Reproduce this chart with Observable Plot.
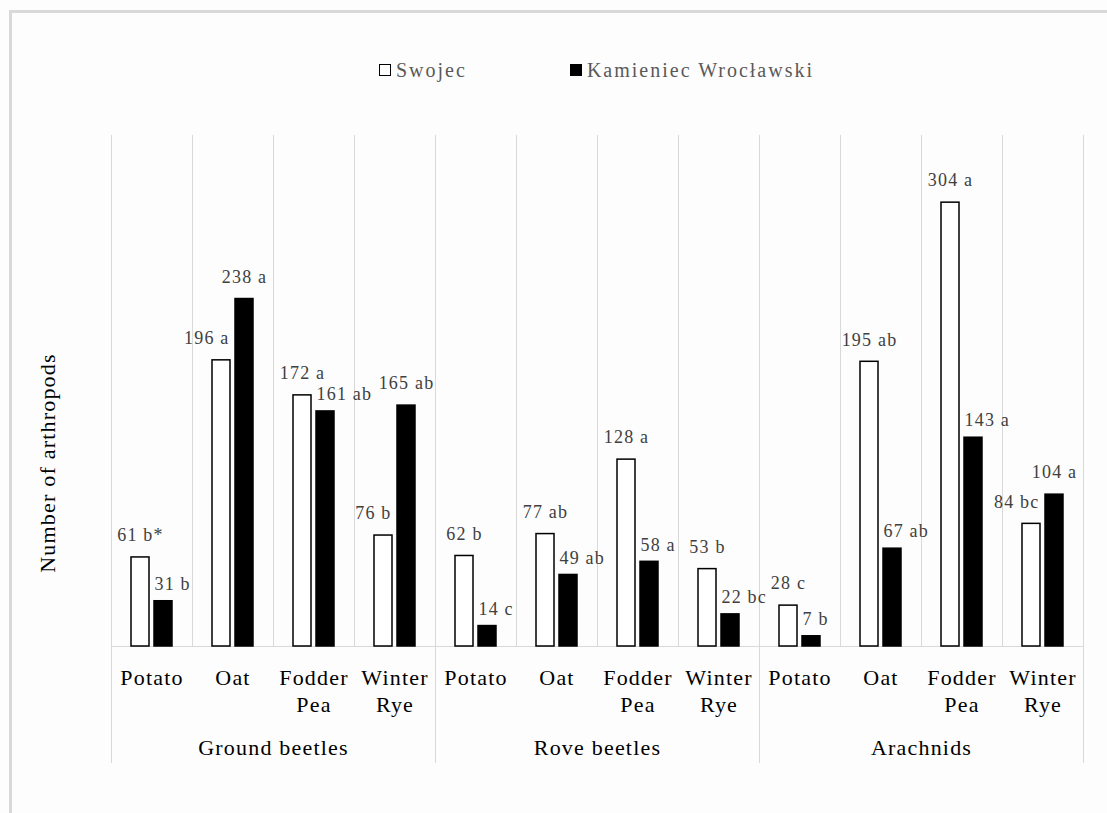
<!DOCTYPE html>
<html>
<head>
<meta charset="utf-8">
<script src="https://cdn.jsdelivr.net/npm/d3@7"></script>
<script src="https://cdn.jsdelivr.net/npm/@observablehq/plot@0.6"></script>
<style>
  html, body { margin: 0; padding: 0; background: #fdfdfd; overflow: hidden; width: 1107px; height: 813px; }
  #border { position: absolute; left: 9px; top: 10px; width: 1130px; height: 840px;
            border-left: 3px solid #d9d9d9; border-top: 3px solid #d9d9d9; box-sizing: border-box; }
  #legend { position: absolute; top: 60px; left: 110px; width: 973px; height: 20px; line-height: 20px;
            display: flex; justify-content: center; align-items: center;
            font-family: "Liberation Serif", serif; font-size: 20px; color: #595959; letter-spacing: 2px; }
  #legend .item { display: flex; align-items: center; }
  #legend .sw { width: 12px; height: 12px; box-sizing: border-box; border: 1.5px solid #000; margin-right: 5px; }
  #chart { position: absolute; left: 0; top: 100px; }
</style>
</head>
<body>
<div id="border"></div>
<div id="legend"></div>
<div id="chart"></div>
<script>
// ---- data ----
const groups = ["Ground beetles", "Rove beetles", "Arachnids"];
const crops = ["Potato", "Oat", "Fodder Pea", "Winter Rye"];
const cropLabels = ["Potato", "Oat", "Fodder\nPea", "Winter\nRye"];
const series = ["Swojec", "Kamieniec Wrocławski"];
const seriesColors = ["#ffffff", "#000000"];

const swojecValues = [61, 196, 172, 76, 62, 77, 128, 53, 28, 195, 304, 84];
const swojecLetters = ["b*", "a", "a", "b", "b", "ab", "a", "b", "c", "ab", "a", "bc"];
const kamieniecValues = [31, 238, 161, 165, 14, 49, 58, 22, 7, 67, 143, 104];
const kamieniecLetters = ["b", "a", "ab", "ab", "c", "ab", "a", "bc", "b", "ab", "a", "a"];

const yTitle = "Number of arthropods";

// ---- build tables ----
const cats = [];
groups.forEach((g, gi) => crops.forEach((c, ci) => {
  cats.push({key: g + "|" + c, group: g, crop: c, label: cropLabels[ci], gi, ci});
}));
const keys = cats.map(d => d.key);

const rows = [];
cats.forEach((cat, i) => {
  const w = swojecValues[i], k = kamieniecValues[i];
  // a label is pushed aside when the neighbouring bar of its category is taller
  rows.push({key: cat.key, series: series[0], value: w, text: w + " " + swojecLetters[i], blocked: k > w});
  rows.push({key: cat.key, series: series[1], value: k, text: k + " " + kamieniecLetters[i], blocked: w > k});
});
const isW = d => d.series === series[0];
const isK = d => d.series === series[1];

// ---- legend ----
const legend = document.getElementById("legend");
series.forEach((s, i) => {
  const item = document.createElement("div");
  item.className = "item";
  if (i > 0) item.style.marginLeft = "103px";
  const sw = document.createElement("div");
  sw.className = "sw";
  sw.style.background = seriesColors[i];
  const t = document.createElement("span");
  t.textContent = s;
  item.appendChild(sw); item.appendChild(t);
  legend.appendChild(item);
});

// ---- chart ----
const grid = "#d9d9d9";
const font = "Liberation Serif, serif";
const groupStarts = cats.filter(d => d.ci === 0).map(d => d.key);
const groupLabelCats = cats.filter(d => d.ci === 1);
const extend = -116;
const lab = {fx: "key", x: "series", y: "value", text: "text", fill: "#404040", fontSize: 18, fontFamily: font};

const marks = [
  Plot.frame({anchor: "left", stroke: grid}),
  ...groupStarts.map(k => Plot.frame({anchor: "left", stroke: grid, insetBottom: extend, fx: () => k})),
  Plot.frame({anchor: "right", stroke: grid, insetBottom: extend, fx: () => keys[keys.length - 1]}),
  Plot.ruleY([0], {stroke: grid}),
  Plot.barY(rows, {fx: "key", x: "series", y: "value", fill: "series", stroke: "#000", strokeWidth: 1.5}),
  Plot.text(rows.filter(d => isW(d) && !d.blocked), {...lab, dy: -22}),
  Plot.text(rows.filter(d => isW(d) && d.blocked), {...lab, dy: -22, dx: 8, textAnchor: "end"}),
  Plot.text(rows.filter(d => isK(d) && !d.blocked), {...lab, dy: -22}),
  Plot.text(rows.filter(d => isK(d) && d.blocked), {...lab, dy: -17, dx: -9, textAnchor: "start"}),
  Plot.text(cats, {fx: "key", text: "label", frameAnchor: "bottom", lineAnchor: "top", dy: 20,
    lineHeight: 1.21, fontSize: 22, fill: "#000", fontFamily: font}),
  Plot.text(groupLabelCats, {fx: "key", text: "group", frameAnchor: "bottom-right", textAnchor: "middle",
    dy: 108, fontSize: 22, fill: "#000", fontFamily: font}),
  Plot.text([yTitle], {fx: () => keys[0], text: d => d, frameAnchor: "left", textAnchor: "middle", rotate: -90,
    dx: -63.5, dy: 72, fontSize: 22, fill: "#000", fontFamily: font})
];

const chart = Plot.plot({
  width: 1107,
  height: 713,
  marginLeft: 110,
  marginRight: 24,
  marginTop: 35,
  marginBottom: 167,
  fx: {domain: keys, padding: 0, axis: null},
  x: {domain: series, paddingInner: 0.22, paddingOuter: 0.87, axis: null},
  y: {domain: [0, 350], axis: null},
  color: {domain: series, range: seriesColors},
  style: {fontFamily: font, background: "transparent", overflow: "visible", letterSpacing: "1.2px"},
  marks
});
document.getElementById("chart").appendChild(chart);
</script>
</body>
</html>
